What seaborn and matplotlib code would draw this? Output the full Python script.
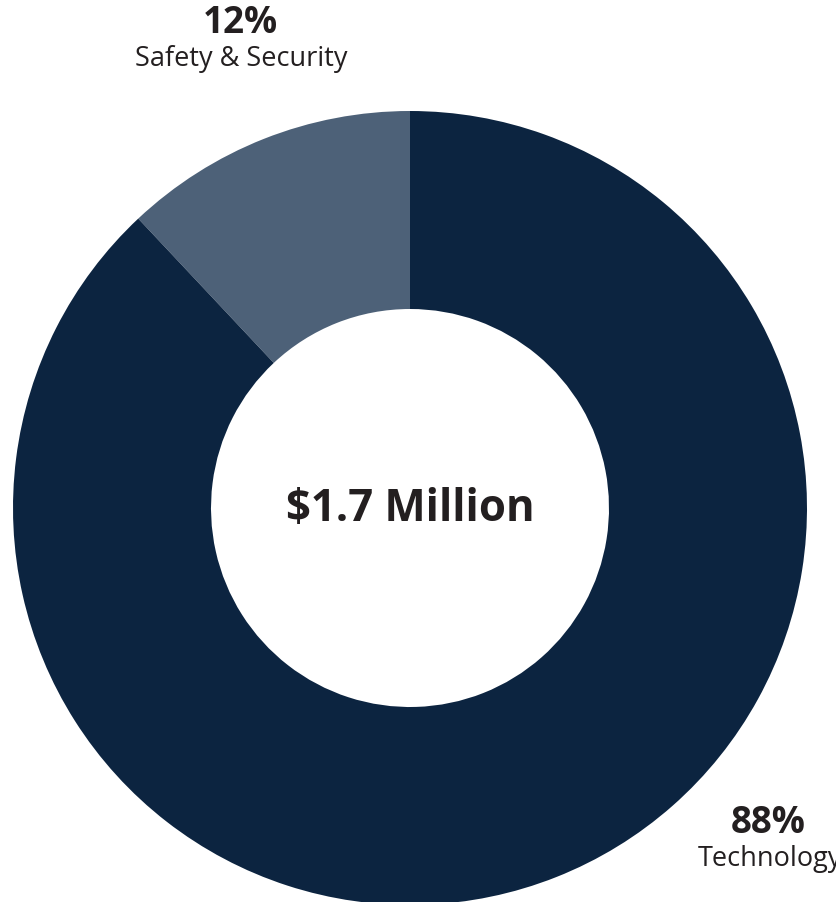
import matplotlib
matplotlib.use("Agg")
import matplotlib.pyplot as plt
import seaborn as sns

categories = ["Safety & Security", "Technology"]
shares = [12, 88]
pct_labels = ["12%", "88%"]
center_label = "$1.7 Million"
colors = ["#4d6178", "#0c2440"]

sns.set_theme(style="white")
plt.rcParams['font.family'] = ['Open Sans', 'DejaVu Sans']

W, H = 836, 902
fig = plt.figure(figsize=(W / 100, H / 100), dpi=100)
ax = fig.add_axes([0, 0, 1, 1])
ax.set_xlim(0, W)
ax.set_ylim(0, H)
ax.set_aspect('equal')
ax.axis('off')

cx, cy = 410, H - 508
R = 397
ax.pie(shares, colors=colors, startangle=90, counterclock=True,
       radius=R, center=(cx, cy), frame=True,
       wedgeprops=dict(width=R - 199, edgecolor='none', linewidth=0))
ax.set_xlim(0, W)
ax.set_ylim(0, H)
ax.axis('off')

txt = "#231f20"
ax.text(cx, cy - 2, center_label, ha='center', va='center', fontsize=31.5,
        fontweight='bold', color=txt)
ax.text(240, H - 23, pct_labels[0], ha='center', va='center', fontsize=26.5,
        fontweight='bold', color=txt)
ax.text(241, H - 59, categories[0], ha='center', va='center', fontsize=19.5,
        color=txt)
ax.text(768, H - 823, pct_labels[1], ha='center', va='center', fontsize=26.5,
        fontweight='bold', color=txt)
ax.text(770, H - 859, categories[1], ha='center', va='center', fontsize=19.5,
        color=txt)

fig.savefig("out.png", dpi=100)
